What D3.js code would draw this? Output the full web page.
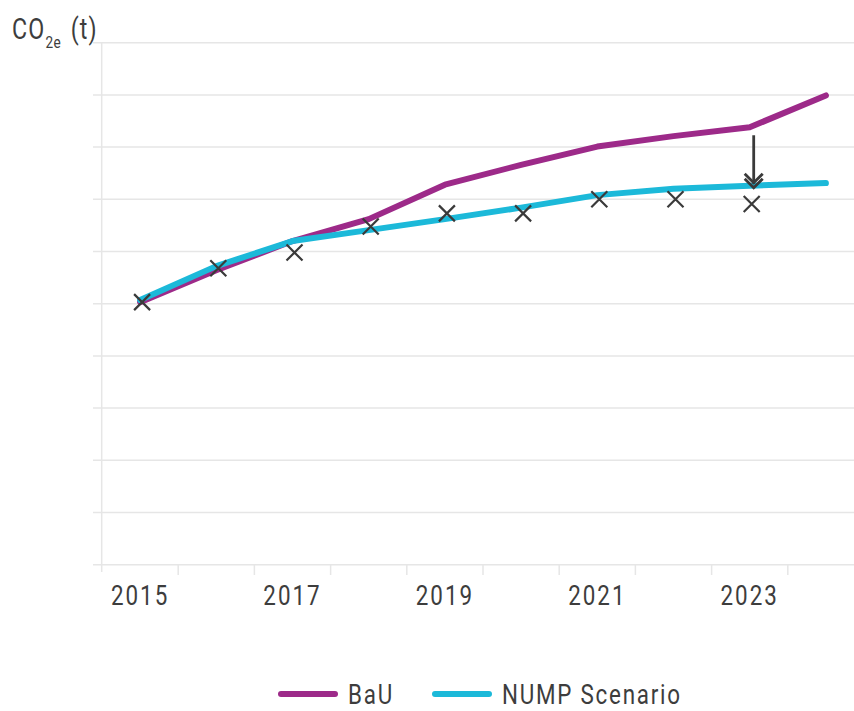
<!DOCTYPE html>
<html>
<head>
<meta charset="utf-8">
<script src="https://cdn.jsdelivr.net/npm/d3@7/dist/d3.min.js"></script>
<style>
  html, body { margin: 0; padding: 0; background: #fff; }
  svg { display: block; }
  text { font-family: Roboto, "DejaVu Sans", sans-serif; fill: #3d3d3d; }
</style>
</head>
<body>
<script>
// Years on the x axis
const years = [2015, 2016, 2017, 2018, 2019, 2020, 2021, 2022, 2023, 2024];
// Business-as-usual emissions (arbitrary gridline units)
const bauValues = [5.03, 5.64, 6.20, 6.62, 7.28, 7.66, 8.01, 8.21, 8.38, 8.99];
// Emissions under the NUMP scenario
const numpValues = [5.07, 5.72, 6.20, 6.41, 6.62, 6.84, 7.08, 7.20, 7.26, 7.31];
// Recorded values shown as crosses
const markerYears = [2015, 2016, 2017, 2018, 2019, 2020, 2021, 2022, 2023];
const markerValues = [5.03, 5.68, 5.98, 6.48, 6.73, 6.73, 7.00, 7.00, 6.91];
// Labelled years on the x axis
const tickLabels = [2015, 2017, 2019, 2021, 2023];
// Gridline levels
const gridLevels = d3.range(0, 11);
const arrowYear = 2023;

const W = 854, H = 711;
const colors = { bau: "#9d2a89", nump: "#1cb9d9", ink: "#3a3a3a", grid: "#e6e6e6" };
const squeeze = 0.8; // horizontal squeeze for a condensed look

const svg = d3.select("body").append("svg").attr("width", W).attr("height", H);

// places a condensed text element at (px, py)
function condensed(sel, px, py) {
  return sel.append("g").attr("transform", `translate(${px},${py})`)
    .append("text").attr("transform", `scale(${squeeze},1)`);
}

const x = d3.scaleBand().domain(years).range([102, 864]);
const xc = d => x(d) + x.bandwidth() / 2;
const y = d3.scaleLinear().domain([0, 10]).range([564.7, 42.7]);

// horizontal gridlines
svg.append("g").selectAll("line").data(gridLevels).join("line")
  .attr("x1", 93).attr("x2", W)
  .attr("y1", d => y(d)).attr("y2", d => y(d))
  .attr("stroke", colors.grid).attr("stroke-width", 1.5);

// vertical axis line
svg.append("line")
  .attr("x1", 101.7).attr("x2", 101.7)
  .attr("y1", y(10)).attr("y2", 572)
  .attr("stroke", colors.grid).attr("stroke-width", 1.5);

// x ticks at band boundaries
svg.append("g").selectAll("line").data(years.slice(1)).join("line")
  .attr("x1", d => x(d)).attr("x2", d => x(d))
  .attr("y1", y(0)).attr("y2", 575)
  .attr("stroke", colors.grid).attr("stroke-width", 1.5);

// x tick labels
const xl = svg.append("g");
tickLabels.forEach(t => {
  condensed(xl, xc(t), 605)
    .attr("text-anchor", "middle")
    .attr("font-size", 28).attr("letter-spacing", 2.5)
    .text(t);
});

// y axis title
const yt = condensed(svg, 12, 39).attr("font-size", 29).attr("letter-spacing", 1.5);
yt.append("tspan").text("CO");
yt.append("tspan").attr("font-size", 17).attr("dy", 9).attr("letter-spacing", 0.5).text("2e");
yt.append("tspan").attr("dy", -9).attr("dx", 12).text("(t)");

// series lines
const line = d3.line().x((d, i) => xc(years[i])).y(d => y(d));
svg.append("path").datum(bauValues).attr("d", line)
  .attr("fill", "none").attr("stroke", colors.bau).attr("stroke-width", 6)
  .attr("stroke-linecap", "round").attr("stroke-linejoin", "round");
svg.append("path").datum(numpValues).attr("d", line)
  .attr("fill", "none").attr("stroke", colors.nump).attr("stroke-width", 6)
  .attr("stroke-linecap", "round").attr("stroke-linejoin", "round");

// cross markers
const s = 8;
svg.append("g").selectAll("path").data(markerYears).join("path")
  .attr("d", (d, i) => {
    const cx = xc(d) + 2, cy = y(markerValues[i]);
    return `M${cx - s},${cy - s}L${cx + s},${cy + s}M${cx - s},${cy + s}L${cx + s},${cy - s}`;
  })
  .attr("fill", "none").attr("stroke", colors.ink).attr("stroke-width", 2.2);

// reduction arrow between the two scenarios
const ai = years.indexOf(arrowYear);
const ax = xc(arrowYear) + 4;
const aTop = y(bauValues[ai]) + 8;
const aTip = y(numpValues[ai]) + 2;
const ag = svg.append("g").attr("fill", "none").attr("stroke", colors.ink)
  .attr("stroke-width", 2.8).attr("stroke-linejoin", "miter");
ag.append("line").attr("x1", ax).attr("x2", ax).attr("y1", aTop).attr("y2", aTip - 4);
[aTip - 5, aTip].forEach(t => {
  ag.append("path").attr("d", `M${ax - 9},${t - 9}L${ax},${t}L${ax + 9},${t - 9}`);
});

// legend
const legend = [
  { label: "BaU", color: colors.bau, x: 281 },
  { label: "NUMP Scenario", color: colors.nump, x: 435 }
];
legend.forEach(d => {
  const g = svg.append("g").attr("transform", `translate(${d.x},694)`);
  g.append("line").attr("x1", 0).attr("x2", 54).attr("y1", 0).attr("y2", 0)
    .attr("stroke", d.color).attr("stroke-width", 6).attr("stroke-linecap", "round");
  condensed(g, 67, 10).attr("font-size", 28).attr("letter-spacing", 2.2).text(d.label);
});
</script>
</body>
</html>
